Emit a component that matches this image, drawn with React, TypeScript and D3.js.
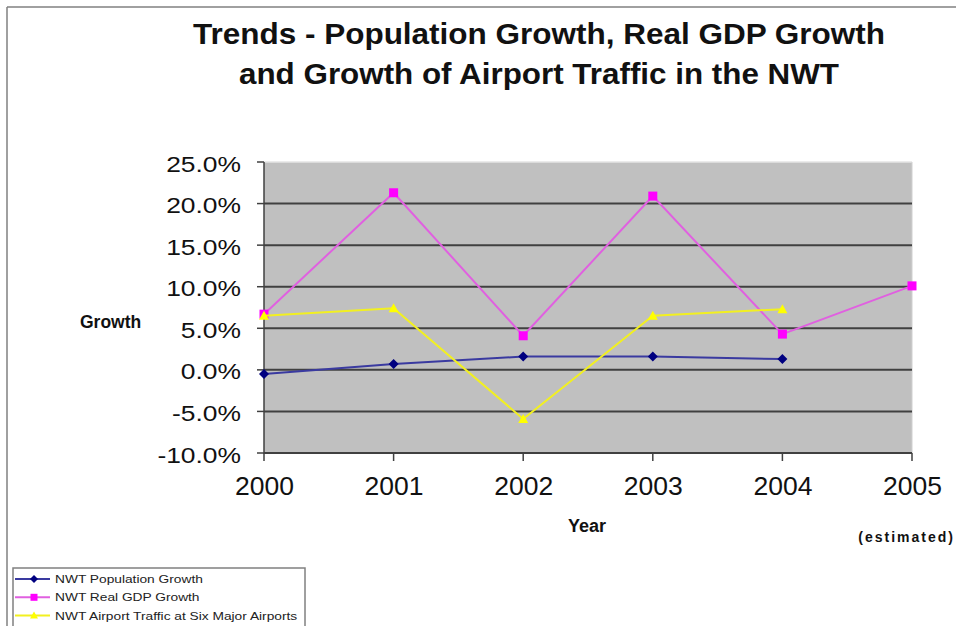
import React from "react";
import * as d3 from "d3";

const years = ["2000", "2001", "2002", "2003", "2004", "2005"];
const yTicks = [25, 20, 15, 10, 5, 0, -5, -10];
const popGrowth = [-0.5, 0.7, 1.6, 1.6, 1.3];
const gdpGrowth = [6.7, 21.3, 4.1, 20.9, 4.3, 10.1];
const airGrowth = [6.5, 7.4, -5.9, 6.5, 7.3];
const seriesNames = [
  "NWT Population Growth",
  "NWT Real GDP Growth",
  "NWT Airport Traffic at Six Major Airports",
];
const titleLines = [
  "Trends - Population Growth, Real GDP Growth",
  "and Growth of Airport Traffic in the NWT",
];

const W = 956;
const H = 626;
const L = 264, R = 912, T = 162, B = 453;
const FONT = "Liberation Sans, Arial, sans-serif";

export default function App() {
  const x = d3.scalePoint<string>().domain(years).range([L, R]);
  const y = d3.scaleLinear().domain([-10, 25]).range([B, T]);
  const line = d3
    .line<number>()
    .x((_, i) => x(years[i]) as number)
    .y((d) => y(d));

  const series = [
    { name: seriesNames[0], data: popGrowth, color: "#000080", line: "#3a3aa0", marker: "diamond" },
    { name: seriesNames[1], data: gdpGrowth, color: "#ff00ff", line: "#e060e0", marker: "square" },
    { name: seriesNames[2], data: airGrowth, color: "#ffff00", line: "#f2f020", marker: "triangle" },
  ];

  const marker = (kind: string, cx: number, cy: number, color: string, s = 5) => {
    if (kind === "diamond")
      return <path d={`M${cx},${cy - s}L${cx + s},${cy}L${cx},${cy + s}L${cx - s},${cy}Z`} fill={color} />;
    if (kind === "square")
      return <rect x={cx - s + 0.5} y={cy - s + 0.5} width={2 * s - 1} height={2 * s - 1} fill={color} />;
    return <path d={`M${cx},${cy - s}L${cx + s},${cy + s - 1}L${cx - s},${cy + s - 1}Z`} fill={color} />;
  };

  const titleWidths = [692, 600];

  return (
    <svg
      width={W}
      height={H}
      style={{ position: "absolute", left: 0, top: 0, background: "#fff" }}
      fontFamily={FONT}
    >
      <rect x={0} y={0} width={W} height={H} fill="#fff" />
      {/* outer chart border */}
      <line x1={7} y1={7} x2={W} y2={7} stroke="#808080" strokeWidth={1.5} />
      <line x1={7} y1={7} x2={7} y2={H} stroke="#808080" strokeWidth={1.5} />

      {/* title */}
      {titleLines.map((t, i) => (
        <text
          key={i}
          x={539 - titleWidths[i] / 2}
          y={44 + i * 39.5}
          fontSize={29}
          fontWeight="bold"
          fill="#111"
          textLength={titleWidths[i]}
          lengthAdjust="spacingAndGlyphs"
        >
          {t}
        </text>
      ))}

      {/* plot area */}
      <rect x={L} y={T} width={R - L} height={B - T} fill="#c0c0c0" />
      <line x1={L} y1={T} x2={R} y2={T} stroke="#e4e4e4" strokeWidth={1.5} />
      <line x1={R} y1={T} x2={R} y2={B} stroke="#d0d0d0" strokeWidth={1} />
      {yTicks.map((v) => (
        <g key={v}>
          {v !== 25 && (
            <line x1={L} y1={y(v)} x2={R} y2={y(v)} stroke="#404040" strokeWidth={2} />
          )}
          <line x1={L - 7} y1={y(v)} x2={L} y2={y(v)} stroke="#404040" strokeWidth={1.5} />
          <text
            transform={`translate(241,${y(v) + 9.5}) scale(1.2,1)`}
            textAnchor="end"
            fontSize={22}
            fill="#111"
          >
            {v.toFixed(1) + "%"}
          </text>
        </g>
      ))}
      <line x1={L} y1={T} x2={L} y2={B + 1} stroke="#404040" strokeWidth={1.5} />
      {years.map((yr) => (
        <g key={yr}>
          <line x1={x(yr)} y1={B} x2={x(yr)} y2={B + 8} stroke="#404040" strokeWidth={1.5} />
          <text x={(x(yr) as number) + 0.5} y={495} textAnchor="middle" fontSize={26.5} fill="#111">
            {yr}
          </text>
        </g>
      ))}

      {/* series */}
      {series.map((s) => (
        <g key={s.name}>
          <path d={line(s.data) || ""} fill="none" stroke={s.line} strokeWidth={2} />
          {s.data.map((d, i) => (
            <g key={i}>{marker(s.marker, x(years[i]) as number, y(d), s.color)}</g>
          ))}
        </g>
      ))}

      {/* axis titles */}
      <text x={80} y={328} fontSize={17.5} fontWeight="bold" fill="#111">
        Growth
      </text>
      <text x={568} y={532} fontSize={18} fontWeight="bold" fill="#111">
        Year
      </text>
      <text x={955} y={542} textAnchor="end" fontSize={14} fontWeight="bold" fill="#111" letterSpacing={2}>
        (estimated)
      </text>

      {/* legend */}
      <rect x={13} y={568} width={292} height={70} fill="#fff" stroke="#808080" strokeWidth={1.5} />
      {series.map((s, i) => {
        const ly = 579 + i * 18.3;
        return (
          <g key={s.name}>
            <line x1={15} y1={ly} x2={50} y2={ly} stroke={s.line} strokeWidth={2} />
            {marker(s.marker, 34, ly, s.color, 4)}
            <text transform={`translate(55,${ly + 4}) scale(1.25,1)`} fontSize={11} fill="#222">
              {s.name}
            </text>
          </g>
        );
      })}
    </svg>
  );
}
